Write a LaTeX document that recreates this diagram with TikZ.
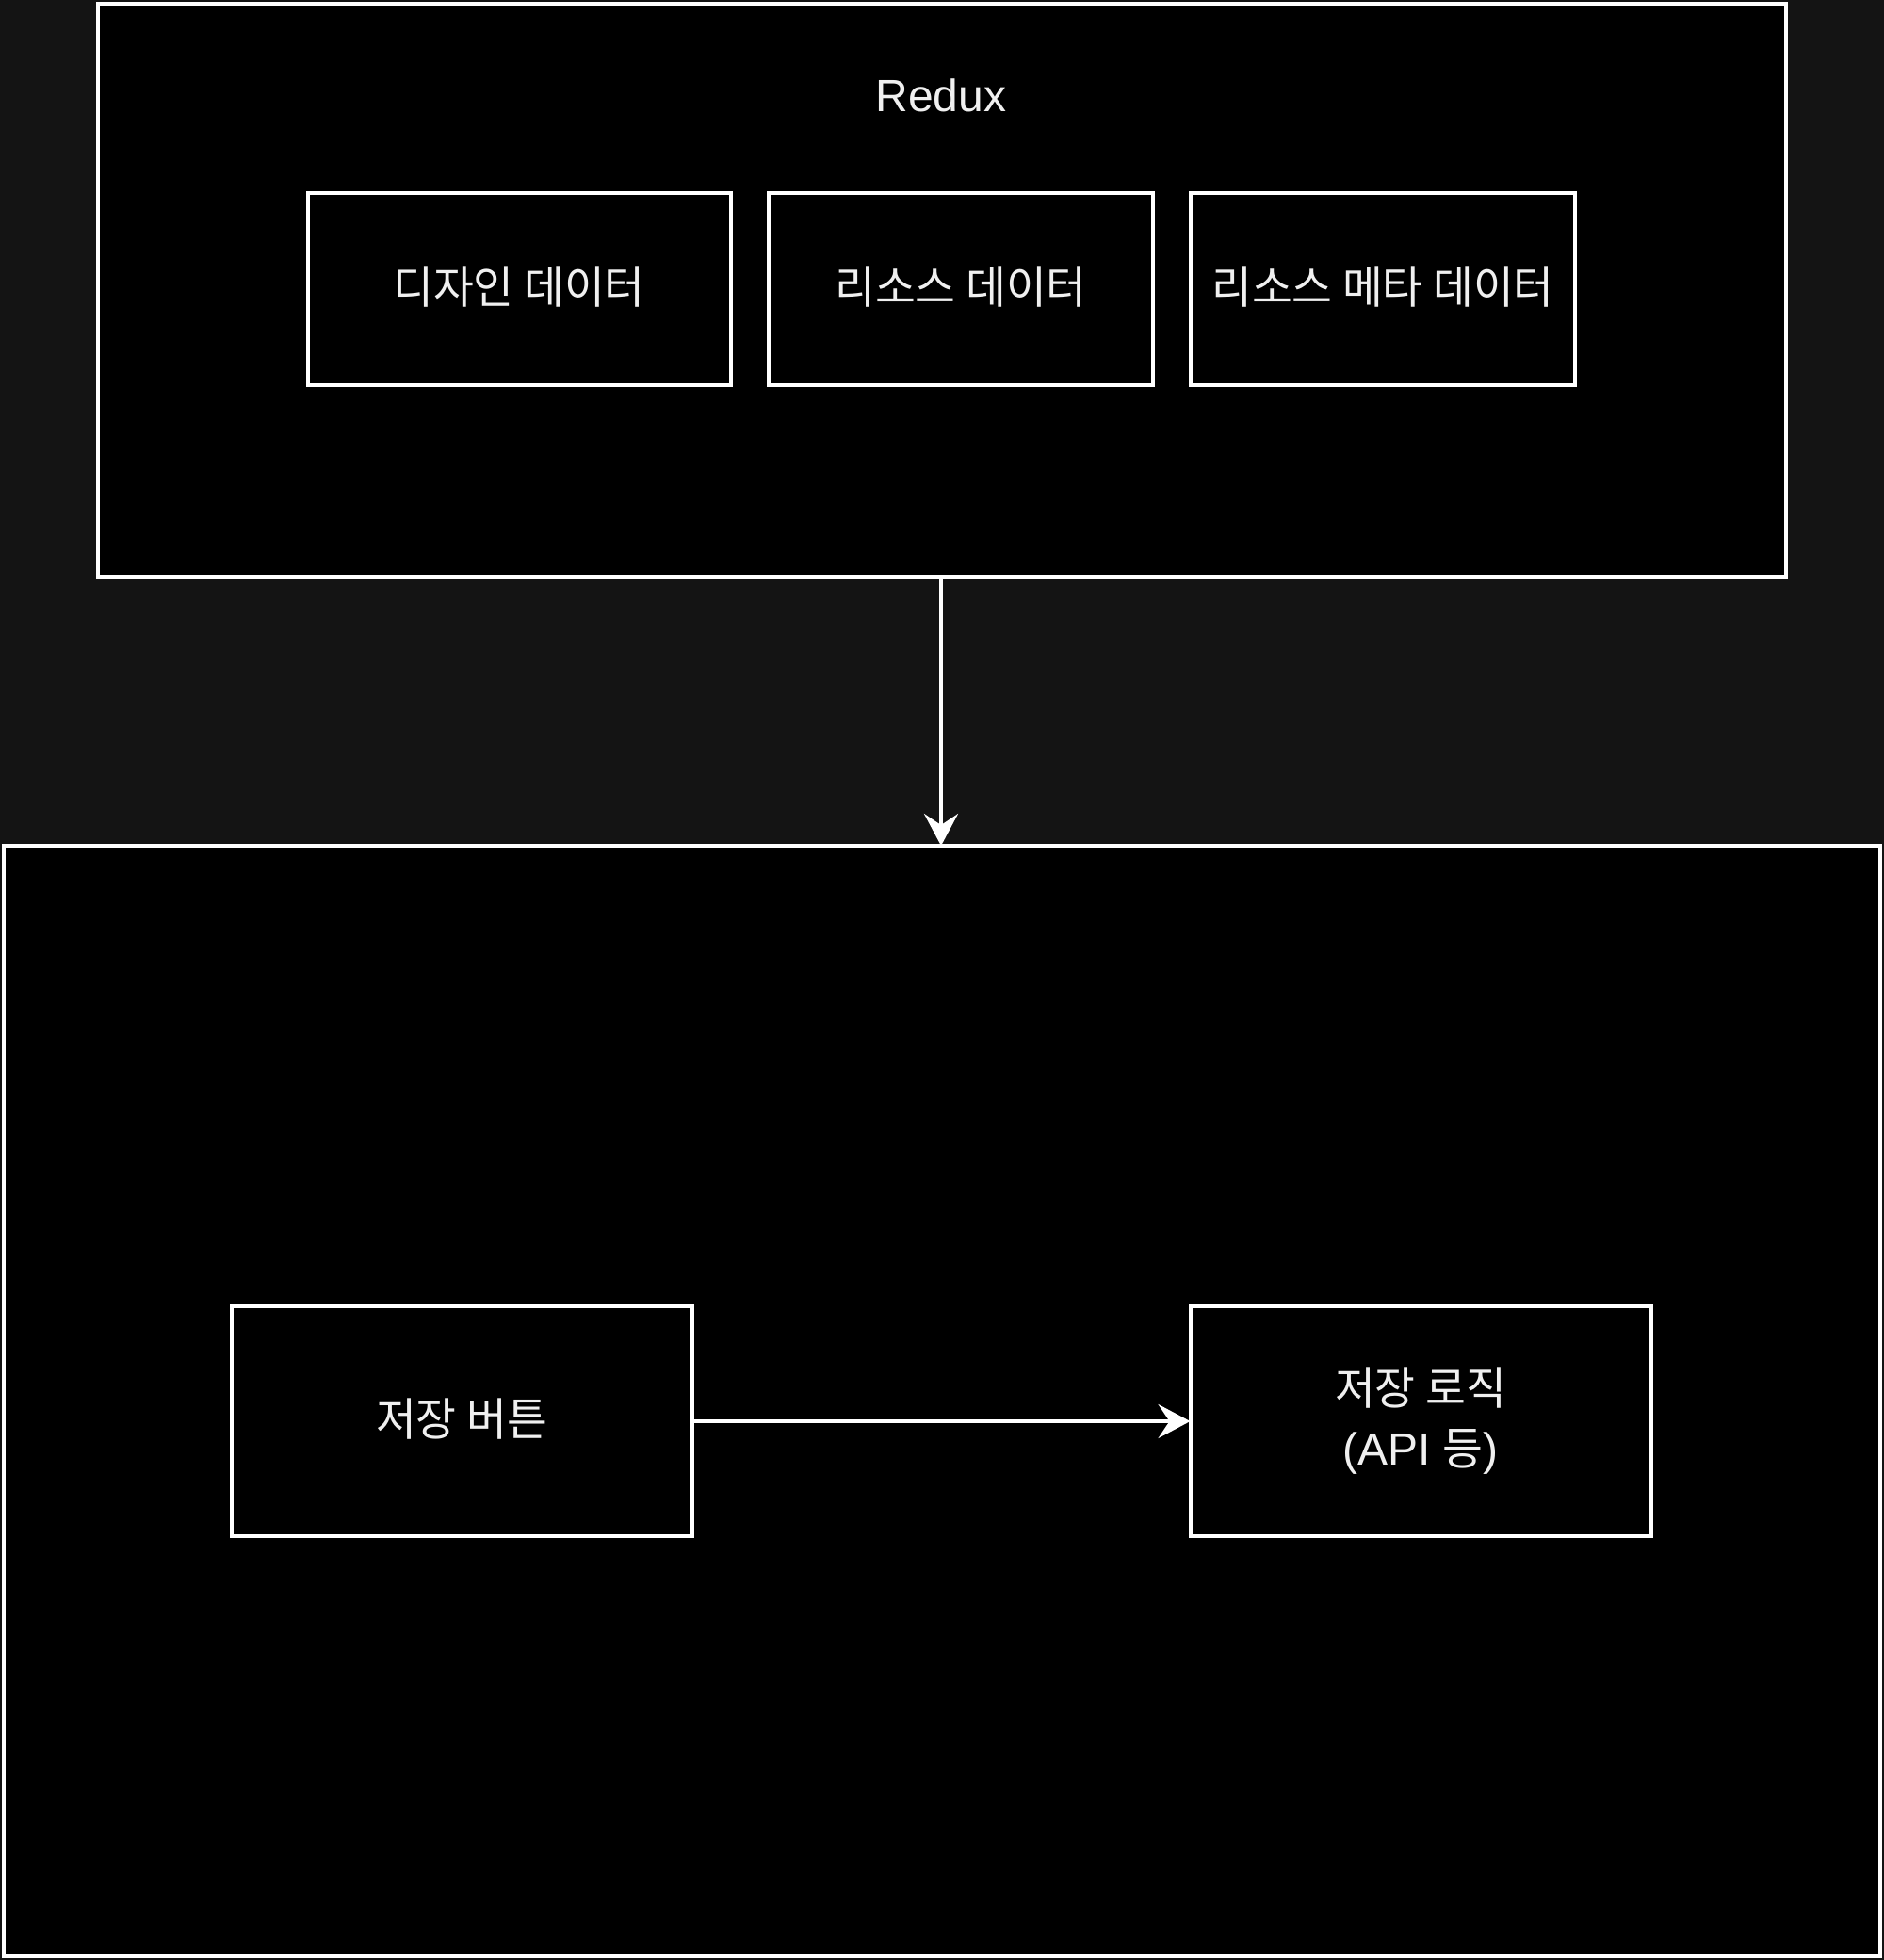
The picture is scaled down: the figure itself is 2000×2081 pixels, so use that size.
\documentclass[tikz,border=0pt]{standalone}
\usepackage{fontspec}
\setmainfont{Liberation Sans}
\newfontfamily\kr[FakeStretch=0.97]{Noto Sans CJK KR}
\usetikzlibrary{arrows.meta}
\definecolor{bgc}{HTML}{141414}
\definecolor{txt}{HTML}{F0F0F0}
\tikzset{
  box/.style={draw=white, fill=black, line width=2pt},
  lbl/.style={text=txt, font=\fontsize{24}{32}\selectfont, align=center, inner sep=0pt},
  conn/.style={draw=white, line width=2pt, -{Stealth[length=17pt, width=18pt, inset=6pt]}}
}
\begin{document}
\begin{tikzpicture}[x=0.5pt, y=-0.5pt]
\fill[bgc] (0,0) rectangle (2000,2081);
\useasboundingbox (0,0) rectangle (2000,2081);
% containers
\draw[box] (104,4) rectangle (1896,613);
\coordinate (topbot) at (999,613);
\draw[box] (4,898) rectangle (1996,2077);
\coordinate (bottop) at (999,898);
\node[lbl] (redux) at (999,101) {Redux};
% inner boxes
\draw[box] (326.5,205.5) rectangle (776,408.5);
\node[lbl] (design) at (551,305) {\kr 디자인 데이터};
\draw[box] (816,205.5) rectangle (1224,408.5);
\node[lbl] (res) at (1020,305) {\kr 리소스 데이터};
\draw[box] (1263.5,205.5) rectangle (1672,408.5);
\node[lbl] (meta) at (1468,305) {\kr 리소스 메타 데이터};
% bottom boxes
\draw[box] (245.5,1387) rectangle (735,1631);
\coordinate (btnr) at (735,1509);
\node[lbl] (btn) at (490,1507) {\kr 저장 버튼};
\draw[box] (1263.5,1387) rectangle (1753,1631);
\coordinate (logl) at (1263.5,1509);
\node[lbl] (logic) at (1508,1509) {{\kr 저장 로직}\\({API} {\kr 등})};
% connectors
\draw[conn] (topbot) -- (bottop);
\draw[conn] (btnr) -- (logl);
\end{tikzpicture}
\end{document}
